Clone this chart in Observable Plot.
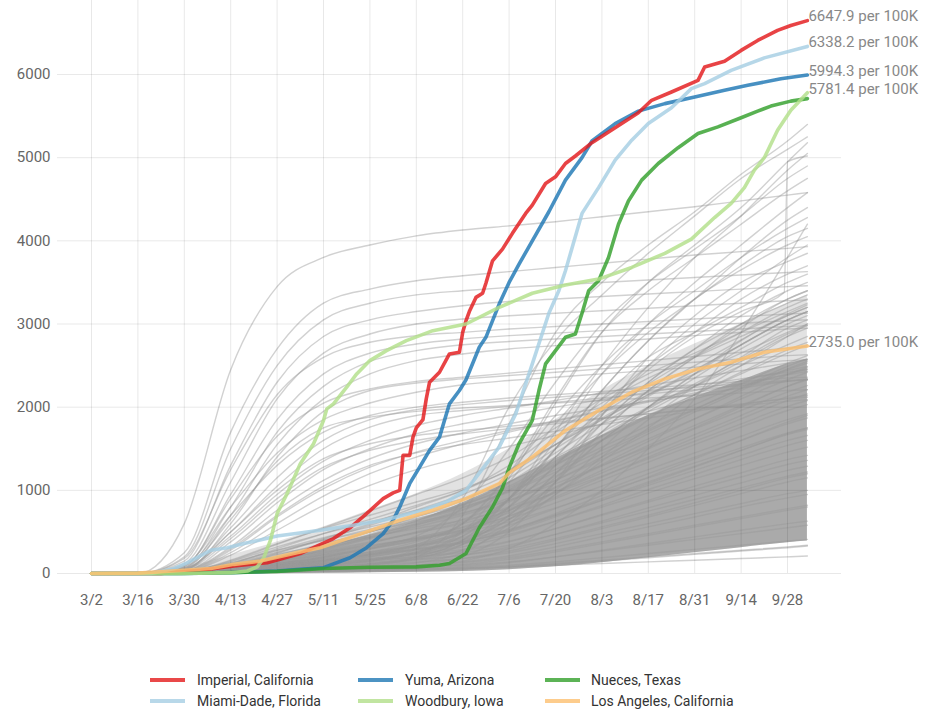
<!DOCTYPE html>
<html>
<head>
<meta charset="utf-8">
<script src="https://cdn.jsdelivr.net/npm/d3@7"></script>
<script src="https://cdn.jsdelivr.net/npm/@observablehq/plot@0.6"></script>
<style>
  html, body { margin: 0; padding: 0; background: #fff; }
  #chart { width: 932px; height: 620px; }
  #legend { position: relative; width: 932px; height: 90px; font-family: Roboto, sans-serif; font-size: 14px; color: #333; }
  .sw { position: absolute; width: 35px; height: 4px; opacity: 0.8; }
  .lb { position: absolute; line-height: 16px; white-space: nowrap; }
</style>
</head>
<body>
<div id="chart"></div>
<div id="legend"></div>
<script>
// ---------- DATA ----------
const yTicks = [0, 1000, 2000, 3000, 4000, 5000, 6000];
const xTickLabels = ["3/2","3/16","3/30","4/13","4/27","5/11","5/25","6/8","6/22","7/6","7/20","8/3","8/17","8/31","9/14","9/28"];

// sample dates for background counties
const gDates = ["3/2","3/16","3/30","4/13","4/27","5/11","5/25","6/8","6/22","7/6","7/20","8/3","8/17","8/31","9/14","9/28","10/4"];

// early-hit counties (spring surge, then plateau)
const earlyCounties = [
  [0,0,600,2450,3450,3800,3950,4060,4130,4180,4230,4290,4350,4410,4480,4550,4580],
  [0,0,250,1700,2700,3250,3420,3520,3580,3630,3680,3730,3780,3830,3870,3910,3930],
  [0,0,200,1500,2500,3050,3250,3350,3400,3440,3470,3500,3530,3560,3590,3620,3630],
  [0,0,150,1300,2300,2850,3050,3150,3220,3270,3300,3330,3360,3390,3420,3450,3460],
  [0,0,120,1100,2100,2650,2880,3000,3060,3100,3130,3160,3190,3220,3250,3280,3290],
  [0,0,180,1250,2150,2600,2780,2860,2900,2940,2970,3000,3030,3060,3090,3120,3130],
  [0,0,90,950,1850,2400,2650,2760,2820,2860,2890,2920,2950,2980,3010,3040,3050],
  [0,0,70,800,1700,2250,2550,2680,2750,2790,2820,2850,2880,2910,2940,2970,2980],
  [0,0,60,700,1550,2100,2400,2560,2640,2700,2740,2780,2820,2860,2900,2940,2950],
  [0,0,40,600,1400,1950,2200,2290,2340,2380,2420,2460,2500,2540,2580,2620,2630],
  [0,0,100,800,1450,1850,2050,2180,2270,2320,2360,2400,2440,2480,2520,2560,2570],
  [0,0,80,700,1300,1700,1900,2000,2060,2110,2150,2190,2230,2270,2310,2350,2360],
  [0,0,50,550,1150,1600,1850,1970,2030,2080,2120,2160,2200,2240,2280,2320,2330],
  [0,0,40,500,1050,1500,1760,1900,1960,2010,2060,2110,2160,2210,2260,2310,2330],
  [0,0,60,450,950,1350,1600,1780,1900,1990,2080,2170,2260,2350,2440,2530,2570],
  [0,0,30,380,850,1250,1500,1680,1800,1900,2000,2090,2180,2260,2340,2420,2450],
  [0,0,35,320,760,1120,1380,1560,1690,1800,1900,1990,2070,2150,2230,2310,2340],
  [0,0,25,280,680,1020,1280,1460,1600,1720,1840,1960,2080,2200,2320,2440,2490],
  [0,0,70,650,1350,1750,1880,1950,1990,2020,2050,2080,2110,2140,2170,2200,2210],
  [0,0,90,900,1650,2050,2220,2310,2360,2410,2460,2510,2560,2610,2660,2710,2730],
  [0,0,20,250,600,930,1200,1400,1560,1700,1830,1950,2060,2170,2280,2390,2430],
  [0,0,45,420,900,1280,1480,1600,1680,1740,1800,1860,1920,1980,2040,2100,2120],
  [0,0,30,300,700,1050,1300,1450,1550,1630,1710,1790,1870,1950,2030,2110,2140],
  [0,0,55,500,1000,1380,1560,1660,1720,1770,1820,1870,1920,1970,2020,2070,2090],
  [0,0,20,220,520,820,1060,1250,1400,1530,1660,1800,1950,2100,2250,2400,2460]
];

// late (summer) surge counties
const lateCounties = [
  [0,0,5,20,40,70,100,200,700,1800,2900,3500,3950,4350,4800,5200,5400],
  [0,0,10,30,60,100,150,300,900,2000,2800,3350,3850,4300,4750,5100,5250],
  [0,0,10,40,80,120,170,260,500,1150,2050,2900,3500,3950,4400,4950,5180],
  [0,0,5,20,50,80,120,200,400,900,1700,2500,3200,3800,4300,4850,5050],
  [0,0,10,50,120,200,300,450,800,1500,2300,3000,3500,3900,4300,4750,4900],
  [0,0,20,80,150,220,300,400,600,1200,2100,2900,3400,3800,4200,4600,4750],
  [0,0,10,30,60,100,160,250,450,900,1600,2400,3000,3500,3950,4400,4580],
  [0,0,5,20,40,60,100,180,350,800,1500,2200,2800,3300,3800,4250,4400],
  [0,0,10,40,90,150,230,350,600,1200,1900,2500,3000,3400,3800,4150,4280],
  [0,0,20,60,120,180,260,380,600,1100,1800,2400,2900,3300,3700,4050,4150],
  [0,0,10,30,50,80,120,200,400,900,1500,2200,2800,3300,3650,3950,4050],
  [0,0,10,30,60,100,150,250,450,800,1300,1900,2500,3000,3400,3800,3950],
  [0,0,5,10,20,40,60,100,200,500,1100,1900,2600,3100,3500,3750,3850],
  [0,0,10,30,80,150,220,320,500,900,1400,2000,2500,2900,3300,3600,3700],
  [0,0,20,60,100,150,200,300,500,900,1500,2100,2600,2900,3200,3500,3600],
  [0,0,10,20,40,70,110,180,350,700,1200,1800,2300,2700,3100,3400,3500],
  [0,0,5,20,50,100,160,240,380,650,1100,1700,2200,2600,3000,3300,3400],
  [0,0,10,40,100,170,250,350,500,800,1300,1800,2300,2700,3000,3250,3350],
  [0,0,10,30,70,120,180,260,400,700,1200,1700,2200,2600,2900,3200,3300],
  [0,0,5,15,30,50,80,130,250,600,1100,1600,2000,2400,2800,3100,3200],
  [0,0,10,30,60,100,160,240,380,650,1000,1500,2000,2400,2750,3050,3150],
  [0,0,20,50,100,160,230,330,480,750,1150,1600,2000,2350,2700,3000,3100],
  [0,0,5,20,40,70,110,170,280,550,950,1400,1850,2250,2600,2950,3050],
  [0,0,10,30,60,100,150,220,350,600,950,1350,1750,2150,2500,2850,3000],
  [0,0,0,10,20,30,50,80,150,300,600,1000,1500,2100,2900,3800,4200]
];

// steady-rising counties (the dense middle mass)
const steadyCounties = [
  [0,0,20,150,350,550,750,950,1150,1400,1750,2100,2400,2650,2900,3150,3250],
  [0,0,10,100,250,420,600,800,1000,1300,1700,2050,2350,2600,2850,3100,3200],
  [0,0,15,120,300,480,650,820,1000,1250,1550,1850,2150,2450,2750,3050,3150],
  [0,0,5,60,180,330,500,680,880,1150,1500,1850,2150,2400,2650,2900,3000],
  [0,0,10,80,200,350,500,650,820,1050,1350,1650,1950,2250,2550,2850,2950],
  [0,0,20,140,320,480,620,760,900,1100,1400,1700,2000,2250,2500,2750,2850],
  [0,0,5,50,150,280,420,580,760,1000,1300,1600,1900,2150,2400,2650,2750],
  [0,0,10,90,220,360,500,640,790,990,1250,1520,1780,2030,2280,2530,2620],
  [0,0,15,110,260,400,530,660,800,980,1220,1480,1730,1980,2220,2460,2550],
  [0,0,5,40,120,230,360,500,650,860,1120,1400,1680,1940,2200,2450,2530],
  [0,0,10,70,180,300,430,560,700,880,1120,1370,1620,1860,2100,2330,2420],
  [0,0,20,130,280,400,510,620,730,880,1080,1300,1520,1740,1960,2180,2260],
  [0,0,5,50,140,250,370,490,620,800,1040,1290,1540,1780,2020,2250,2340],
  [0,0,10,60,160,270,380,490,600,760,980,1210,1440,1670,1900,2130,2210],
  [0,0,5,30,100,190,290,400,520,690,920,1160,1400,1630,1860,2080,2160],
  [0,0,15,100,230,340,440,540,640,780,970,1170,1380,1590,1800,2010,2080],
  [0,0,5,40,110,200,300,410,530,690,900,1120,1340,1550,1760,1960,2030],
  [0,0,10,60,150,240,330,420,520,660,850,1050,1250,1450,1650,1850,1920],
  [0,0,5,30,90,160,240,330,430,580,780,990,1200,1400,1600,1800,1870],
  [0,0,10,70,170,260,340,420,500,620,790,970,1150,1330,1510,1690,1750],
  [0,0,5,25,70,130,200,280,370,510,700,900,1100,1290,1480,1670,1730],
  [0,0,10,50,120,190,260,330,410,530,700,880,1060,1240,1420,1600,1660],
  [0,0,5,20,60,110,170,240,320,450,630,820,1010,1190,1370,1540,1600],
  [0,0,10,45,110,170,230,290,360,470,630,800,970,1140,1300,1460,1520],
  [0,0,5,20,50,90,140,200,270,380,540,710,880,1050,1210,1370,1420],
  [0,0,5,30,80,130,180,230,290,390,540,700,860,1010,1160,1310,1360],
  [0,0,5,15,40,70,110,160,220,320,470,630,790,940,1090,1240,1290],
  [0,0,10,35,80,120,160,200,250,340,470,610,750,890,1030,1170,1220],
  [0,0,5,15,35,60,90,130,180,270,400,540,680,820,960,1100,1150],
  [0,0,5,20,50,80,110,140,180,250,360,480,600,720,840,960,1000],
  [0,0,5,10,25,45,70,100,140,210,320,440,560,680,800,910,950],
  [0,0,5,15,35,55,75,100,130,190,280,380,480,580,680,780,820],
  [0,0,0,10,20,35,55,80,110,170,260,360,460,560,660,760,800],
  [0,0,5,15,30,45,60,80,100,140,200,270,340,410,480,550,580],
  [0,0,0,5,15,25,40,60,85,130,200,280,360,440,520,600,630],
  [0,0,5,10,20,30,40,55,70,100,140,190,240,290,340,390,410],
  [0,0,0,5,10,15,25,35,50,75,110,150,190,230,270,310,330],
  [0,0,5,10,20,30,40,50,60,80,100,120,140,160,180,200,210],
  [0,0,0,5,10,20,30,45,60,85,120,160,200,240,280,320,340],
  [0,0,5,20,50,90,130,170,220,300,420,560,700,850,1000,1150,1200],
  [0,0,10,40,90,150,220,300,380,500,680,880,1080,1280,1480,1680,1750],
  [0,0,5,30,80,140,210,290,380,520,720,940,1160,1380,1600,1820,1900],
  [0,0,10,50,130,220,320,430,550,730,980,1240,1500,1750,2000,2250,2330],
  [0,0,5,40,110,200,310,430,560,760,1030,1310,1590,1860,2130,2390,2480],
  [0,0,10,80,200,330,460,590,720,910,1170,1440,1710,1970,2230,2490,2580],
  [0,0,15,120,280,430,560,690,830,1030,1310,1600,1880,2150,2420,2690,2780],
  [0,0,5,50,150,290,440,600,770,1010,1330,1660,1980,2280,2580,2880,2980],
  [0,0,10,60,170,310,470,640,830,1100,1450,1800,2130,2440,2750,3050,3150],
  [0,0,20,160,360,540,700,860,1020,1240,1550,1870,2190,2500,2810,3120,3230],
  [0,0,10,90,240,410,580,760,950,1200,1550,1920,2280,2620,2960,3300,3400]
];

// one county with a reporting jump at the end of September
const jumpDates = ["3/2","3/16","3/30","4/13","4/27","5/11","5/25","6/8","6/22","7/6","7/20","8/3","8/17","8/31","9/14","9/27","9/28","10/4"];
const jumpValues = [0,0,10,40,90,150,230,340,520,900,1400,1950,2450,2850,3150,3380,4950,5020];

// envelopes of the densely overlapping mass of counties (core and fringe)
const denseLow   = [0,0,0,0,2,5,10,15,25,45,80,130,190,250,310,370,390];
const denseHigh  = [0,2,30,110,200,320,460,630,850,1100,1380,1660,1900,2120,2320,2520,2580];
const fringeHigh = [0,5,70,220,380,560,760,960,1200,1500,1850,2200,2500,2760,3000,3250,3350];

// highlighted counties: [date, cases per 100K]
const imperial = [["3/2",0],["3/23",0],["4/4",40],["4/14",90],["4/24",130],["5/4",240],["5/14",420],["5/19",550],["5/24",720],["5/29",900],["6/1",970],["6/3",1000],["6/4",1420],["6/6",1420],["6/7",1640],["6/8",1750],["6/10",1850],["6/11",2100],["6/12",2300],["6/15",2420],["6/18",2640],["6/21",2660],["6/22",2900],["6/23",3040],["6/24",3150],["6/26",3320],["6/28",3370],["6/29",3490],["7/1",3760],["7/4",3900],["7/7",4090],["7/11",4330],["7/13",4430],["7/17",4690],["7/20",4770],["7/23",4930],["7/26",5020],["7/31",5180],["8/7",5360],["8/14",5540],["8/18",5690],["8/24",5790],["9/1",5930],["9/3",6090],["9/9",6160],["9/14",6290],["9/19",6410],["9/25",6530],["9/29",6590],["10/4",6647.9]];
const yuma = [["3/2",0],["3/30",0],["4/13",10],["4/27",30],["5/4",50],["5/11",70],["5/19",190],["5/24",310],["5/29",480],["6/1",640],["6/3",800],["6/6",1080],["6/9",1280],["6/12",1480],["6/15",1640],["6/18",2040],["6/21",2200],["6/23",2330],["6/27",2720],["6/29",2840],["7/3",3240],["7/6",3500],["7/9",3720],["7/13",4000],["7/18",4350],["7/23",4730],["7/28",5000],["7/31",5200],["8/7",5410],["8/14",5560],["8/22",5650],["8/31",5730],["9/9",5810],["9/16",5870],["9/26",5950],["10/4",5994.3]];
const nueces = [["3/2",0],["3/28",0],["4/13",10],["4/27",25],["5/11",60],["5/25",75],["6/8",80],["6/15",100],["6/18",120],["6/23",240],["6/27",550],["7/1",800],["7/4",1030],["7/6",1270],["7/9",1560],["7/13",1840],["7/15",2200],["7/17",2520],["7/23",2840],["7/26",2880],["7/28",3130],["7/30",3400],["8/2",3520],["8/5",3800],["8/8",4200],["8/11",4480],["8/15",4730],["8/20",4930],["8/26",5120],["9/1",5290],["9/7",5370],["9/14",5480],["9/19",5560],["9/23",5620],["9/29",5680],["10/4",5710]];
const miamiDade = [["3/2",0],["3/20",0],["3/27",60],["3/31",130],["4/7",280],["4/12",310],["4/17",360],["4/27",450],["5/10",520],["5/20",580],["5/29",640],["6/10",760],["6/17",860],["6/23",1000],["7/3",1520],["7/8",1920],["7/13",2520],["7/18",3130],["7/21",3400],["7/23",3640],["7/28",4330],["8/2",4640],["8/7",4970],["8/12",5210],["8/17",5410],["8/24",5600],["8/30",5830],["9/3",5890],["9/11",6050],["9/21",6200],["10/4",6338.2]];
const woodbury = [["3/2",0],["3/30",0],["4/13",10],["4/18",30],["4/21",80],["4/23",190],["4/25",400],["4/27",720],["4/30",960],["5/4",1320],["5/8",1560],["5/11",1840],["5/12",1980],["5/14",2040],["5/18",2240],["5/21",2400],["5/25",2560],["5/30",2680],["6/5",2800],["6/13",2920],["6/23",3000],["7/3",3200],["7/13",3370],["7/23",3470],["8/2",3540],["8/12",3680],["8/22",3850],["8/30",4020],["9/6",4280],["9/11",4450],["9/15",4640],["9/18",4850],["9/21",5000],["9/25",5330],["9/29",5570],["10/4",5781.4]];
const losAngeles = [["3/2",0],["3/16",5],["3/30",40],["4/7",60],["4/14",110],["4/22",150],["5/4",260],["5/10",310],["5/24",500],["6/3",640],["6/13",760],["6/23",900],["7/3",1080],["7/6",1210],["7/13",1400],["7/23",1720],["8/2",1960],["8/12",2180],["8/22",2340],["9/1",2460],["9/11",2540],["9/21",2660],["10/4",2735]];

const seriesNames  = ["Imperial, California","Yuma, Arizona","Nueces, Texas","Miami-Dade, Florida","Woodbury, Iowa","Los Angeles, California"];
const seriesColors = ["#e31a1c","#1f78b4","#33a02c","#a6cee3","#b2df8a","#fdbf6f"];
const endLabels = [
  {name: "Imperial, California", text: "6647.9 per 100K"},
  {name: "Miami-Dade, Florida", text: "6338.2 per 100K"},
  {name: "Yuma, Arizona", text: "5994.3 per 100K"},
  {name: "Woodbury, Iowa", text: "5781.4 per 100K"},
  {name: "Los Angeles, California", text: "2735.0 per 100K"}
];

// ---------- BUILD ----------
const toDate = s => { const [m, d] = s.split("/").map(Number); return new Date(Date.UTC(2020, m - 1, d)); };
const DAY = 864e5;
const x0 = toDate("3/2").getTime() - 10.26 * DAY;
const xDomain = [new Date(x0), new Date(x0 + 236.55 * DAY)];
const xTicks = xTickLabels.map(toDate);

const grayRows = [];
let gid = 0;
for (const group of [earlyCounties, lateCounties, steadyCounties]) {
  for (const vals of group) {
    vals.forEach((v, j) => grayRows.push({id: gid, date: toDate(gDates[j]), value: v}));
    gid++;
  }
}
jumpValues.forEach((v, j) => grayRows.push({id: gid, date: toDate(jumpDates[j]), value: v}));

const band = gDates.map((s, j) => ({date: toDate(s), lo: denseLow[j], hi: denseHigh[j], fhi: fringeHigh[j]}));

const hiSeries = [imperial, yuma, nueces, miamiDade, woodbury, losAngeles];
const hiRows = [];
hiSeries.forEach((arr, i) => arr.forEach(([s, v]) => hiRows.push({name: seriesNames[i], date: toDate(s), value: v})));
const drawOrder = ["Yuma, Arizona","Imperial, California","Nueces, Texas","Miami-Dade, Florida","Woodbury, Iowa","Los Angeles, California"];

const labelRows = endLabels.map(l => {
  const arr = hiSeries[seriesNames.indexOf(l.name)];
  const last = arr[arr.length - 1];
  return {date: toDate(last[0]), value: last[1], text: l.text};
});

const colorOf = Object.fromEntries(seriesNames.map((n, i) => [n, seriesColors[i]]));

const chart = Plot.plot({
  width: 932,
  height: 620,
  marginLeft: 57,
  marginRight: 91,
  marginTop: 0,
  marginBottom: 47,
  style: {fontFamily: "Roboto, sans-serif", fontSize: "15px", color: "#666", background: "#fff", overflow: "visible"},
  x: {type: "utc", domain: xDomain, ticks: xTicks, tickFormat: d => `${d.getUTCMonth() + 1}/${d.getUTCDate()}`, tickSize: 0, tickPadding: 21, label: null},
  y: {domain: [0, 6890], ticks: yTicks, tickFormat: d => String(d), tickSize: 0, tickPadding: 7, label: null},
  marks: [
    Plot.areaY(band, {x: "date", y1: "lo", y2: "fhi", fill: "#8a8a8a", fillOpacity: 0.25, curve: "monotone-x"}),
    Plot.areaY(band, {x: "date", y1: "lo", y2: "hi", fill: "#888", fillOpacity: 0.62, curve: "monotone-x"}),
    Plot.line(grayRows, {x: "date", y: "value", z: "id", stroke: "#999", strokeOpacity: 0.45, strokeWidth: 1.4, curve: "monotone-x"}),
    Plot.ruleX(xTicks, {stroke: "#000", strokeOpacity: 0.09}),
    Plot.ruleY(yTicks, {stroke: "#000", strokeOpacity: 0.09}),
    ...drawOrder.map(n => Plot.line(hiRows.filter(r => r.name === n), {x: "date", y: "value", stroke: colorOf[n], strokeOpacity: 0.82, strokeWidth: 3.6, strokeLinejoin: "round", strokeLinecap: "round"})),
    Plot.text(labelRows, {x: "date", y: "value", text: "text", textAnchor: "start", dx: 1, dy: -4, fill: "#888", fontSize: 15})
  ]
});
document.getElementById("chart").appendChild(chart);

// ---------- LEGEND ----------
const legend = document.getElementById("legend");
const colSwatch = [150, 358, 545];
const colText = [197, 405, 591];
const rowY = [60, 81];
const legendOrder = ["Imperial, California","Yuma, Arizona","Nueces, Texas","Miami-Dade, Florida","Woodbury, Iowa","Los Angeles, California"];
legendOrder.forEach((n, i) => {
  const c = i % 3, r = Math.floor(i / 3);
  const sw = document.createElement("div");
  sw.className = "sw";
  sw.style.left = colSwatch[c] + "px";
  sw.style.top = (rowY[r] - 2) + "px";
  sw.style.background = colorOf[n];
  legend.appendChild(sw);
  const lb = document.createElement("div");
  lb.className = "lb";
  lb.style.left = colText[c] + "px";
  lb.style.top = (rowY[r] - 8) + "px";
  lb.textContent = n;
  legend.appendChild(lb);
});
</script>
</body>
</html>
